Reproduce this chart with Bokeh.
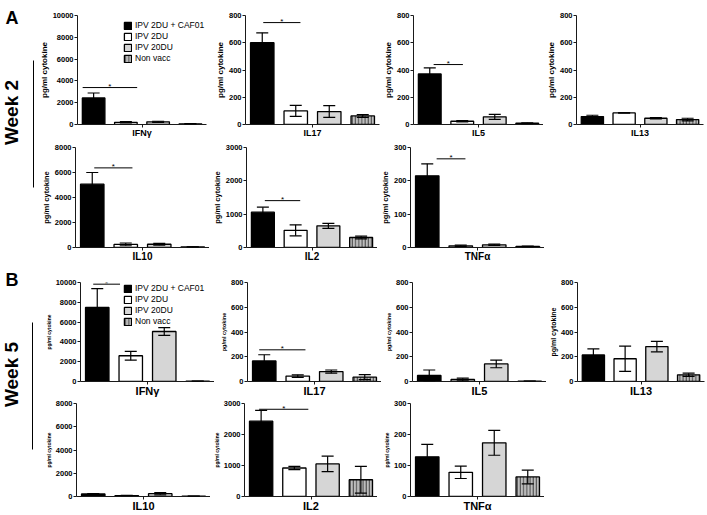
import math
from bokeh.plotting import figure
from bokeh.models import Range1d, FixedTicker, ColumnDataSource, Whisker, TeeHead, Label
from bokeh.layouts import row, column
from bokeh.embed import file_html
from bokeh.resources import INLINE
from bokeh.core.properties import value

FONT = "Liberation Sans"

groups = ["IPV 2DU + CAF01", "IPV 2DU", "IPV 20DU", "Non vacc"]
bar_fill = ["#000000", "#ffffff", "#d6d6d6", "#bdbdbd"]
bar_hatch = [" ", " ", " ", "|"]

# ---- Week 2 (pg/ml) ----
w2_ifng = [2440, 200, 250, 60]
w2_ifng_err = [450, 60, 50, 20]
w2_il17 = [600, 100, 95, 63]
w2_il17_err = [73, 41, 43, 10]
w2_il5 = [371, 24, 56, 10]
w2_il5_err = [44, 4, 18, 3]
w2_il13 = [58, 85, 46, 36]
w2_il13_err = [10, 0, 5, 10]
w2_il10 = [5070, 250, 260, 40]
w2_il10_err = [930, 110, 70, 15]
w2_il2 = [1060, 515, 650, 300]
w2_il2_err = [150, 165, 75, 40]
w2_tnfa = [215, 5, 8, 3]
w2_tnfa_err = [36, 2, 2, 1]

# ---- Week 5 (pg/ml) ----
w5_ifng = [7480, 2600, 5050, 30]
w5_ifng_err = [1900, 450, 400, 10]
w5_il17 = [166, 44, 80, 35]
w5_il17_err = [50, 10, 13, 20]
w5_il5 = [49, 16, 142, 3]
w5_il5_err = [44, 11, 31, 1]
w5_il13 = [214, 184, 282, 54]
w5_il13_err = [49, 102, 42, 13]
w5_il10 = [216, 80, 243, 20]
w5_il10_err = [30, 10, 100, 5]
w5_il2 = [2430, 920, 1050, 540]
w5_il2_err = [350, 50, 250, 430]
w5_tnfa = [128, 78, 173, 63]
w5_tnfa_err = [40, 20, 40, 22]

# significance brackets: (x from, x to, height) in bar-position units / pg/ml
sig_w2_ifng = (-0.68, 2.7, 3390)
sig_w2_il17 = (0.06, 2.28, 748)
sig_w2_il5 = (0.24, 2.04, 440)
sig_w2_il10 = (0.12, 2.4, 6370)
sig_w2_il2 = (0.12, 2.28, 1406)
sig_w2_tnfa = (0.56, 2.28, 266)
sig_w5_ifng = (-0.24, 1.36, 9830)
sig_w5_il17 = (-0.3, 2.46, 256)
sig_w5_il2 = (-0.12, 2.84, 2814)

y_title = "pg/ml cytokine"


def panel(label, vals, errs, ymax, step, fw, h, bl, br, bt, bb,
          sig=None, legend=None, title_size="8px", cat_size="10px"):
    n = len(groups)
    xs = [2 * i for i in range(n)]
    p = figure(width=bl + fw + br, height=h,
               x_range=Range1d(-1.0, -1.0 + 2 * n), y_range=Range1d(0, ymax),
               output_backend="svg", toolbar_location=None,
               min_border_left=bl, min_border_right=br,
               min_border_top=bt, min_border_bottom=bb)
    p.outline_line_color = None
    p.grid.visible = False
    p.background_fill_color = "white"
    p.border_fill_color = "white"
    src = ColumnDataSource(dict(
        x=xs, top=vals, group=groups, fill=bar_fill, hatch=bar_hatch,
        lo=[v - e for v, e in zip(vals, errs)],
        hi=[v + e for v, e in zip(vals, errs)]))
    kw = {}
    if legend is not None:
        kw["legend_field"] = "group"
    p.vbar(x="x", top="top", width=1.4, source=src, fill_color="fill",
           line_color="black", line_width=1.3, hatch_pattern="hatch",
           hatch_color="#3a3a3a", hatch_scale=3.2, hatch_weight=0.9, **kw)
    wh = Whisker(source=src, base="x", upper="hi", lower="lo",
                 line_color="black", line_width=1.2, level="overlay",
                 upper_head=TeeHead(size=12, line_width=1.2, line_color="black"),
                 lower_head=TeeHead(size=12, line_width=1.2, line_color="black"))
    p.add_layout(wh)
    if sig is not None:
        x0, x1, ys = sig
        p.segment(x0=[x0], x1=[x1], y0=[ys], y1=[ys], line_color="black", line_width=1)
        p.add_layout(Label(x=(x0 + x1) / 2, y=ys, text="*", text_align="center",
                           text_baseline="alphabetic", text_font=FONT,
                           text_font_size="8px", text_color="black", y_offset=1))
    # y axis
    ya = p.yaxis[0]
    ya.ticker = FixedTicker(ticks=list(range(0, ymax + 1, step)))
    ya.axis_label = y_title
    ya.axis_label_text_font = FONT
    ya.axis_label_text_font_size = title_size
    ya.axis_label_text_font_style = "bold"
    ya.axis_label_text_color = "black"
    ya.axis_label_standoff = 1
    ya.major_label_text_font = FONT
    ya.major_label_text_font_size = "7.5px"
    ya.major_label_text_font_style = "bold"
    ya.major_label_text_color = "black"
    ya.major_label_standoff = 1
    ya.major_tick_out = 3
    ya.major_tick_in = 0
    ya.minor_tick_out = 0
    ya.minor_tick_in = 0
    ya.axis_line_color = "#1a1a1a"
    ya.major_tick_line_color = "#1a1a1a"
    # x axis
    xa = p.xaxis[0]
    xa.ticker = FixedTicker(ticks=[n - 1])
    xa.major_label_overrides = {n - 1: label}
    xa.major_label_text_font = FONT
    xa.major_label_text_font_size = cat_size
    xa.major_label_text_font_style = "bold"
    xa.major_label_text_color = "black"
    xa.major_label_standoff = 0
    xa.major_tick_out = 3
    xa.major_tick_in = 0
    xa.minor_tick_out = 0
    xa.minor_tick_in = 0
    xa.axis_line_color = "#1a1a1a"
    xa.major_tick_line_color = "#1a1a1a"
    if legend is not None:
        lg = p.legend[0]
        lg.location = legend
        lg.background_fill_alpha = 0
        lg.border_line_alpha = 0
        lg.padding = 0
        lg.margin = 0
        lg.spacing = 1
        lg.glyph_width = 9
        lg.glyph_height = 9
        lg.label_height = 9
        lg.label_standoff = 3
        lg.label_text_font = FONT
        lg.label_text_font_size = "8.5px"
        lg.label_text_color = "black"
    return p


def side(h, letter, letter_top, week, week_c, line_top, line_bot, line_x):
    p = figure(width=36, height=h, x_range=Range1d(0, 36), y_range=Range1d(0, h),
               output_backend="svg", toolbar_location=None,
               x_axis_type=None, y_axis_type=None, min_border=0)
    p.outline_line_color = None
    p.grid.visible = False
    p.text(x=[5], y=[h - letter_top], text=[letter], text_align="left",
           text_baseline="top", text_font=value(FONT), text_font_size="18px",
           text_font_style="bold", text_color="black")
    p.text(x=[11], y=[h - week_c], text=[week], text_align="center",
           text_baseline="middle", angle=math.pi / 2, text_font=value(FONT),
           text_font_size="19px", text_font_style="bold", text_color="black")
    p.segment(x0=[line_x], x1=[line_x], y0=[h - line_top], y1=[h - line_bot],
              line_color="black", line_width=1)
    return p


FW = 134

# Week 2 block
hA1, hA2 = 141, 123
a_ifng = panel("IFNγ", w2_ifng, w2_ifng_err, 10000, 2000, FW, hA1, 36, 6, 15, 17,
               sig=sig_w2_ifng, legend=(46, 61), title_size="8px", cat_size="9px")
a_il17 = panel("IL17", w2_il17, w2_il17_err, 800, 200, FW, hA1, 33, 1, 15, 17,
               sig=sig_w2_il17, cat_size="9px")
a_il5 = panel("IL5", w2_il5, w2_il5_err, 800, 200, FW, hA1, 29, 0, 15, 17,
              sig=sig_w2_il5, cat_size="9px")
a_il13 = panel("IL13", w2_il13, w2_il13_err, 800, 200, FW, hA1, 26, 4, 15, 17,
               cat_size="9px")
a_il10 = panel("IL10", w2_il10, w2_il10_err, 8000, 2000, FW, hA2, 39, 0, 6, 17,
               sig=sig_w2_il10, title_size="7.5px", cat_size="10px")
a_il2 = panel("IL2", w2_il2, w2_il2_err, 3000, 1000, FW, hA2, 34, 0, 6, 17,
              sig=sig_w2_il2, title_size="7.5px", cat_size="10px")
a_tnfa = panel("TNFα", w2_tnfa, w2_tnfa_err, 300, 100, FW, hA2, 33, 0, 6, 17,
               sig=sig_w2_tnfa, title_size="7.5px", cat_size="10px")

side_a = side(hA1 + hA2, "A", 7, "Week 2", 112, 60, 187, 33)
block_a = row(side_a, column(row(a_ifng, a_il17, a_il5, a_il13),
                             row(a_il10, a_il2, a_tnfa)))

# Week 5 block
hB1, hB2 = 135, 115
b_ifng = panel("IFNγ", w5_ifng, w5_ifng_err, 10000, 2000, FW, hB1, 44, 0, 18, 18,
               sig=sig_w5_ifng, legend=(43, 55), title_size="5px", cat_size="11px")
b_il17 = panel("IL17", w5_il17, w5_il17_err, 800, 200, FW, hB1, 33, 0, 18, 18,
               sig=sig_w5_il17, title_size="5.5px", cat_size="11px")
b_il5 = panel("IL5", w5_il5, w5_il5_err, 800, 200, FW, hB1, 31, 0, 18, 18,
              title_size="5.5px", cat_size="11px")
b_il13 = panel("IL13", w5_il13, w5_il13_err, 800, 200, FW, hB1, 24, 3, 18, 18,
               title_size="7px", cat_size="11px")
b_il10 = panel("IL10", w5_il10, w5_il10_err, 8000, 2000, FW, hB2, 40, 0, 4, 17,
               title_size="5px", cat_size="11px")
b_il2 = panel("IL2", w5_il2, w5_il2_err, 3000, 1000, FW, hB2, 33, 0, 4, 17,
              sig=sig_w5_il2, title_size="5px", cat_size="11px")
b_tnfa = panel("TNFα", w5_tnfa, w5_tnfa_err, 300, 100, FW, hB2, 33, 0, 4, 17,
               title_size="5px", cat_size="11px")

side_b = side(hB1 + hB2, "B", 5, "Week 5", 110, 58, 185, 32)
block_b = row(side_b, column(row(b_ifng, b_il17, b_il5, b_il13),
                             row(b_il10, b_il2, b_tnfa)))

layout = column(block_a, block_b)
open("out.html", "w").write(file_html(layout, INLINE))
